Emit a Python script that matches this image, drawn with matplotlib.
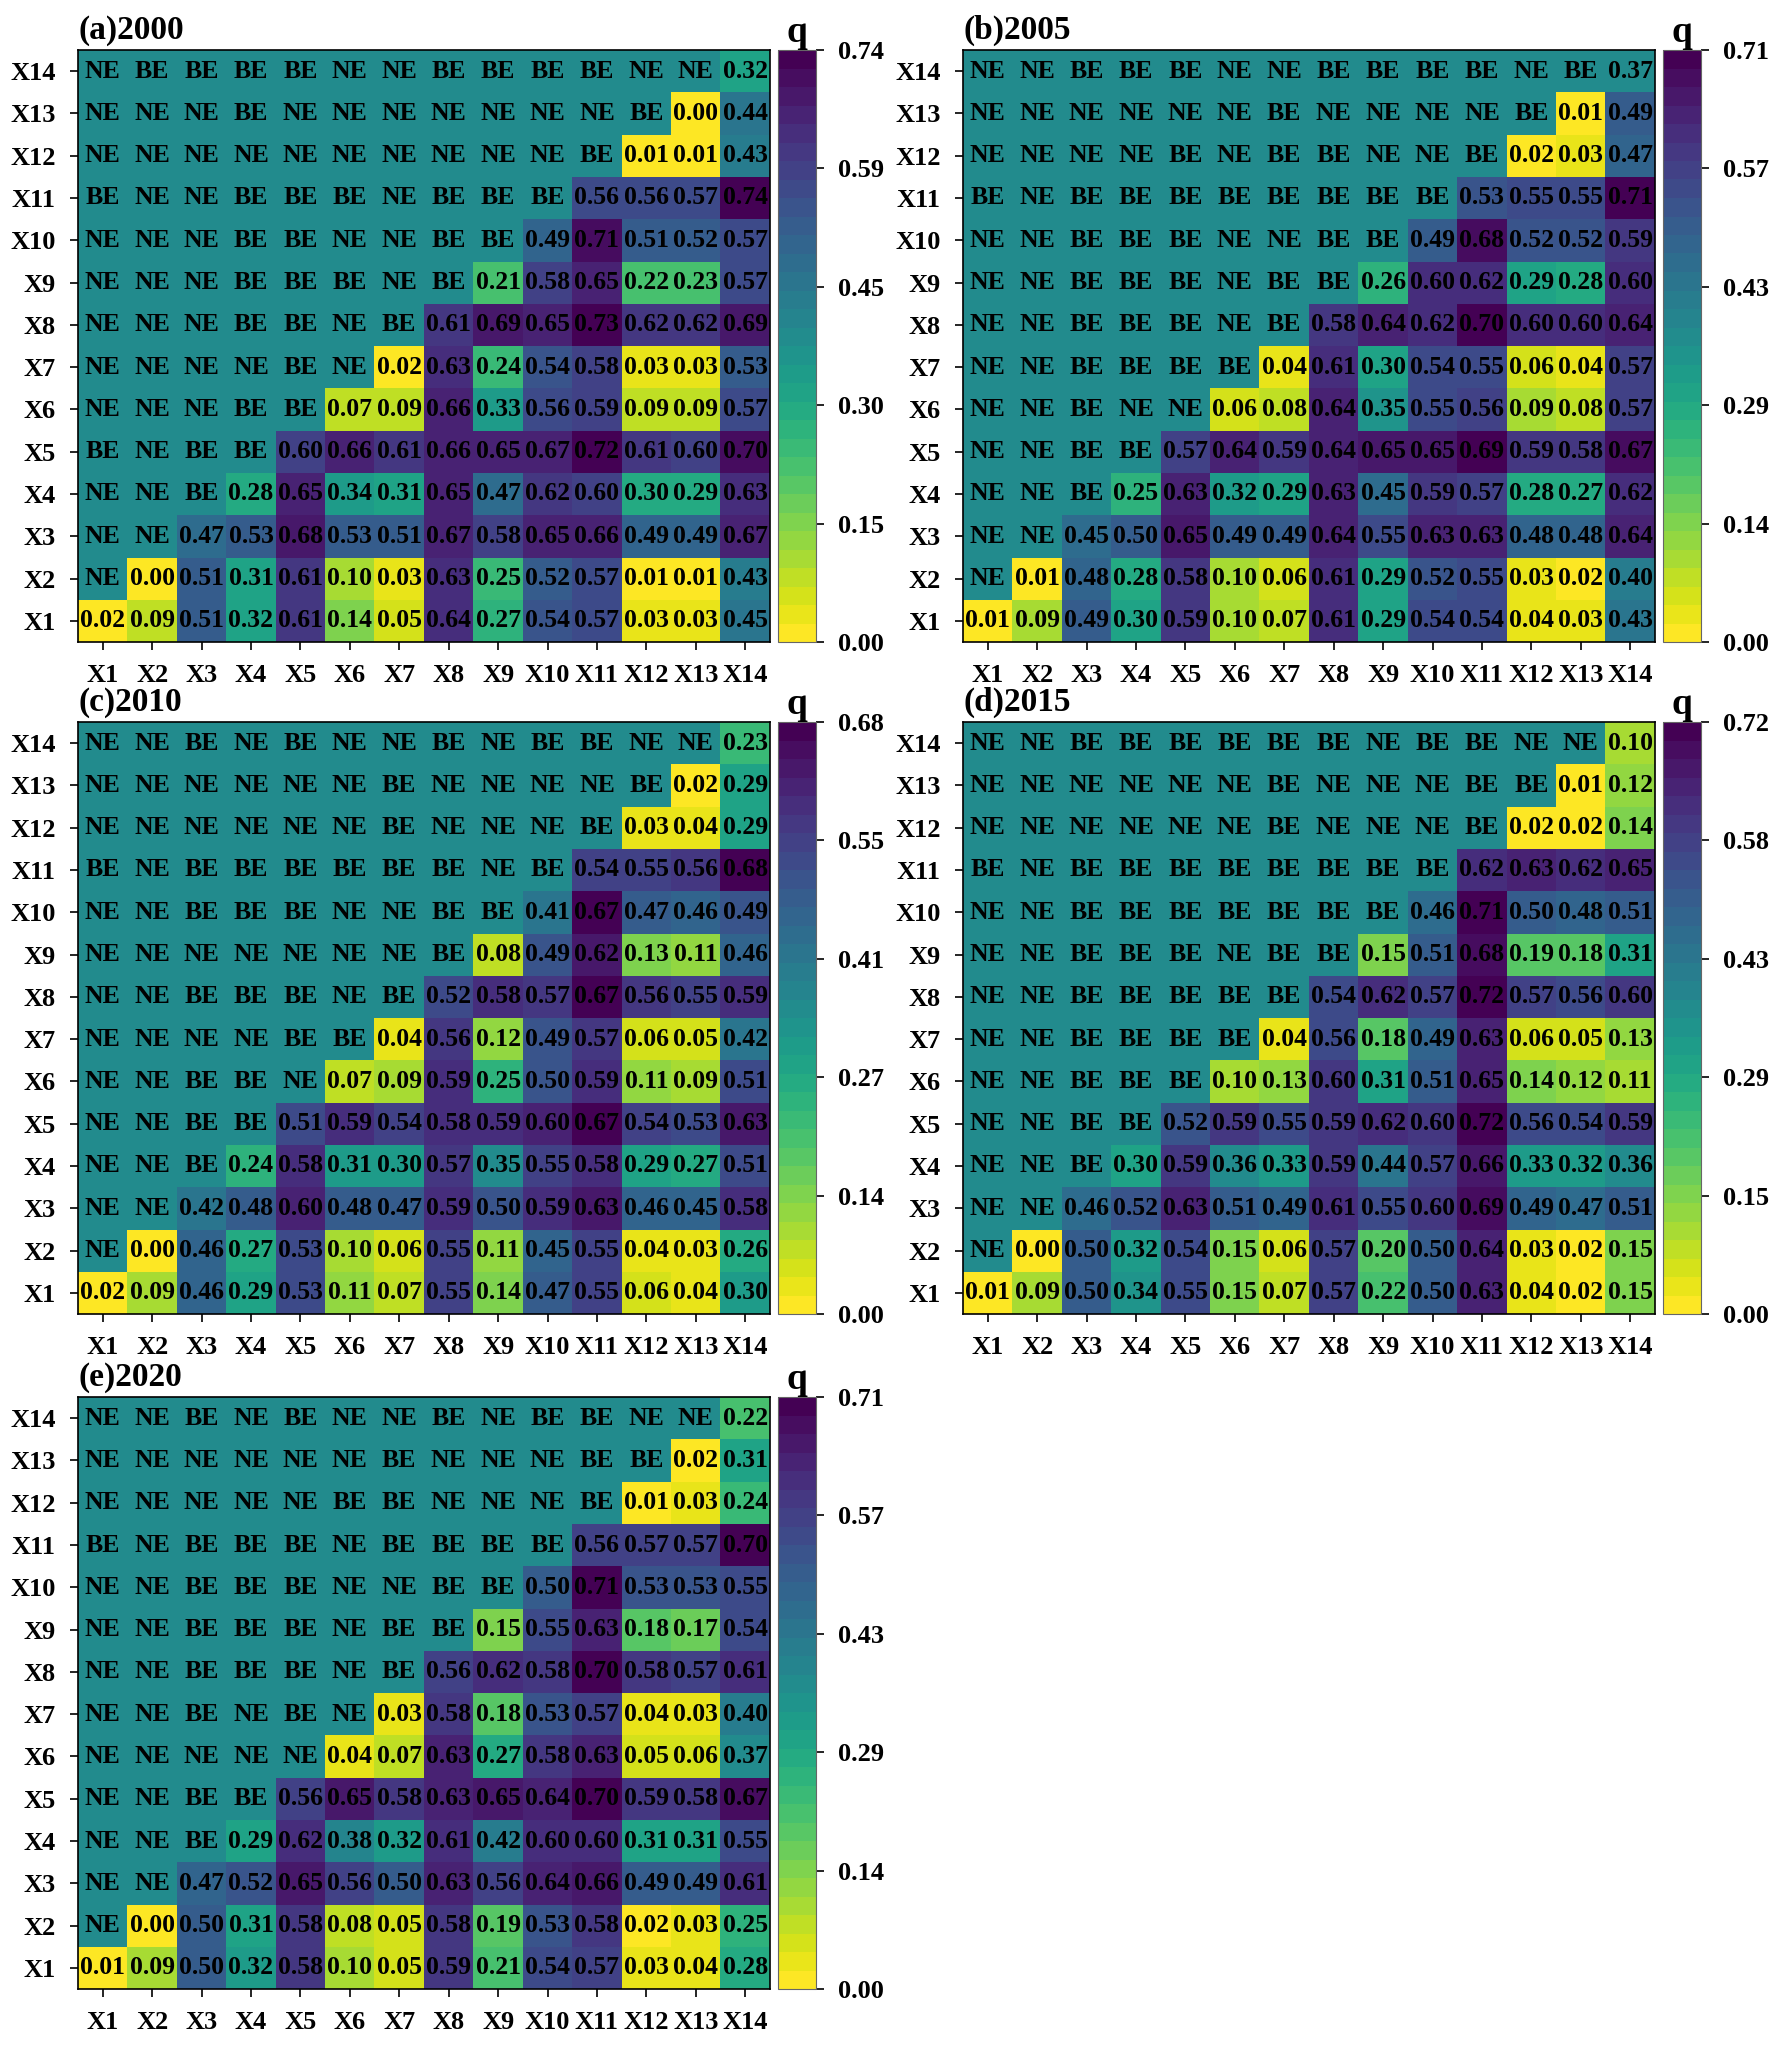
import numpy as np
import matplotlib
matplotlib.use("Agg")
import matplotlib.pyplot as plt

plt.rcParams['font.family'] = ['Liberation Serif', 'DejaVu Serif']
plt.rcParams['font.weight'] = 'bold'

factors = ['X%d' % i for i in range(1, 15)]

# rows from X1 (bottom) to X14 (top); cells left of the diagonal hold the interaction type
grid_2000 = [
    "0.02 0.09 0.51 0.32 0.61 0.14 0.05 0.64 0.27 0.54 0.57 0.03 0.03 0.45",
    "NE 0.00 0.51 0.31 0.61 0.10 0.03 0.63 0.25 0.52 0.57 0.01 0.01 0.43",
    "NE NE 0.47 0.53 0.68 0.53 0.51 0.67 0.58 0.65 0.66 0.49 0.49 0.67",
    "NE NE BE 0.28 0.65 0.34 0.31 0.65 0.47 0.62 0.60 0.30 0.29 0.63",
    "BE NE BE BE 0.60 0.66 0.61 0.66 0.65 0.67 0.72 0.61 0.60 0.70",
    "NE NE NE BE BE 0.07 0.09 0.66 0.33 0.56 0.59 0.09 0.09 0.57",
    "NE NE NE NE BE NE 0.02 0.63 0.24 0.54 0.58 0.03 0.03 0.53",
    "NE NE NE BE BE NE BE 0.61 0.69 0.65 0.73 0.62 0.62 0.69",
    "NE NE NE BE BE BE NE BE 0.21 0.58 0.65 0.22 0.23 0.57",
    "NE NE NE BE BE NE NE BE BE 0.49 0.71 0.51 0.52 0.57",
    "BE NE NE BE BE BE NE BE BE BE 0.56 0.56 0.57 0.74",
    "NE NE NE NE NE NE NE NE NE NE BE 0.01 0.01 0.43",
    "NE NE NE BE NE NE NE NE NE NE NE BE 0.00 0.44",
    "NE BE BE BE BE NE NE BE BE BE BE NE NE 0.32",
]
grid_2005 = [
    "0.01 0.09 0.49 0.30 0.59 0.10 0.07 0.61 0.29 0.54 0.54 0.04 0.03 0.43",
    "NE 0.01 0.48 0.28 0.58 0.10 0.06 0.61 0.29 0.52 0.55 0.03 0.02 0.40",
    "NE NE 0.45 0.50 0.65 0.49 0.49 0.64 0.55 0.63 0.63 0.48 0.48 0.64",
    "NE NE BE 0.25 0.63 0.32 0.29 0.63 0.45 0.59 0.57 0.28 0.27 0.62",
    "NE NE BE BE 0.57 0.64 0.59 0.64 0.65 0.65 0.69 0.59 0.58 0.67",
    "NE NE BE NE NE 0.06 0.08 0.64 0.35 0.55 0.56 0.09 0.08 0.57",
    "NE NE BE BE BE BE 0.04 0.61 0.30 0.54 0.55 0.06 0.04 0.57",
    "NE NE BE BE BE NE BE 0.58 0.64 0.62 0.70 0.60 0.60 0.64",
    "NE NE BE BE BE NE BE BE 0.26 0.60 0.62 0.29 0.28 0.60",
    "NE NE BE BE BE NE NE BE BE 0.49 0.68 0.52 0.52 0.59",
    "BE NE BE BE BE BE BE BE BE BE 0.53 0.55 0.55 0.71",
    "NE NE NE NE BE NE BE BE NE NE BE 0.02 0.03 0.47",
    "NE NE NE NE NE NE BE NE NE NE NE BE 0.01 0.49",
    "NE NE BE BE BE NE NE BE BE BE BE NE BE 0.37",
]
grid_2010 = [
    "0.02 0.09 0.46 0.29 0.53 0.11 0.07 0.55 0.14 0.47 0.55 0.06 0.04 0.30",
    "NE 0.00 0.46 0.27 0.53 0.10 0.06 0.55 0.11 0.45 0.55 0.04 0.03 0.26",
    "NE NE 0.42 0.48 0.60 0.48 0.47 0.59 0.50 0.59 0.63 0.46 0.45 0.58",
    "NE NE BE 0.24 0.58 0.31 0.30 0.57 0.35 0.55 0.58 0.29 0.27 0.51",
    "NE NE BE BE 0.51 0.59 0.54 0.58 0.59 0.60 0.67 0.54 0.53 0.63",
    "NE NE BE BE NE 0.07 0.09 0.59 0.25 0.50 0.59 0.11 0.09 0.51",
    "NE NE NE NE BE BE 0.04 0.56 0.12 0.49 0.57 0.06 0.05 0.42",
    "NE NE BE BE BE NE BE 0.52 0.58 0.57 0.67 0.56 0.55 0.59",
    "NE NE NE NE NE NE NE BE 0.08 0.49 0.62 0.13 0.11 0.46",
    "NE NE BE BE BE NE NE BE BE 0.41 0.67 0.47 0.46 0.49",
    "BE NE BE BE BE BE BE BE NE BE 0.54 0.55 0.56 0.68",
    "NE NE NE NE NE NE BE NE NE NE BE 0.03 0.04 0.29",
    "NE NE NE NE NE NE BE NE NE NE NE BE 0.02 0.29",
    "NE NE BE NE BE NE NE BE NE BE BE NE NE 0.23",
]
grid_2015 = [
    "0.01 0.09 0.50 0.34 0.55 0.15 0.07 0.57 0.22 0.50 0.63 0.04 0.02 0.15",
    "NE 0.00 0.50 0.32 0.54 0.15 0.06 0.57 0.20 0.50 0.64 0.03 0.02 0.15",
    "NE NE 0.46 0.52 0.63 0.51 0.49 0.61 0.55 0.60 0.69 0.49 0.47 0.51",
    "NE NE BE 0.30 0.59 0.36 0.33 0.59 0.44 0.57 0.66 0.33 0.32 0.36",
    "NE NE BE BE 0.52 0.59 0.55 0.59 0.62 0.60 0.72 0.56 0.54 0.59",
    "NE NE BE BE BE 0.10 0.13 0.60 0.31 0.51 0.65 0.14 0.12 0.11",
    "NE NE BE BE BE BE 0.04 0.56 0.18 0.49 0.63 0.06 0.05 0.13",
    "NE NE BE BE BE BE BE 0.54 0.62 0.57 0.72 0.57 0.56 0.60",
    "NE NE BE BE BE NE BE BE 0.15 0.51 0.68 0.19 0.18 0.31",
    "NE NE BE BE BE BE BE BE BE 0.46 0.71 0.50 0.48 0.51",
    "BE NE BE BE BE BE BE BE BE BE 0.62 0.63 0.62 0.65",
    "NE NE NE NE NE NE BE NE NE NE BE 0.02 0.02 0.14",
    "NE NE NE NE NE NE BE NE NE NE BE BE 0.01 0.12",
    "NE NE BE BE BE BE BE BE NE BE BE NE NE 0.10",
]
grid_2020 = [
    "0.01 0.09 0.50 0.32 0.58 0.10 0.05 0.59 0.21 0.54 0.57 0.03 0.04 0.28",
    "NE 0.00 0.50 0.31 0.58 0.08 0.05 0.58 0.19 0.53 0.58 0.02 0.03 0.25",
    "NE NE 0.47 0.52 0.65 0.56 0.50 0.63 0.56 0.64 0.66 0.49 0.49 0.61",
    "NE NE BE 0.29 0.62 0.38 0.32 0.61 0.42 0.60 0.60 0.31 0.31 0.55",
    "NE NE BE BE 0.56 0.65 0.58 0.63 0.65 0.64 0.70 0.59 0.58 0.67",
    "NE NE NE NE NE 0.04 0.07 0.63 0.27 0.58 0.63 0.05 0.06 0.37",
    "NE NE BE NE BE NE 0.03 0.58 0.18 0.53 0.57 0.04 0.03 0.40",
    "NE NE BE BE BE NE BE 0.56 0.62 0.58 0.70 0.58 0.57 0.61",
    "NE NE BE BE BE NE BE BE 0.15 0.55 0.63 0.18 0.17 0.54",
    "NE NE BE BE BE NE NE BE BE 0.50 0.71 0.53 0.53 0.55",
    "BE NE BE BE BE NE BE BE BE BE 0.56 0.57 0.57 0.70",
    "NE NE NE NE NE BE BE NE NE NE BE 0.01 0.03 0.24",
    "NE NE NE NE NE NE BE NE NE NE BE BE 0.02 0.31",
    "NE NE BE NE BE NE NE BE NE BE BE NE NE 0.22",
]

titles = ['(a)2000', '(b)2005', '(c)2010', '(d)2015', '(e)2020']
grids = [grid_2000, grid_2005, grid_2010, grid_2015, grid_2020]
cbar_labels = [
    ['0.00', '0.15', '0.30', '0.45', '0.59', '0.74'],
    ['0.00', '0.14', '0.29', '0.43', '0.57', '0.71'],
    ['0.00', '0.14', '0.27', '0.41', '0.55', '0.68'],
    ['0.00', '0.15', '0.29', '0.43', '0.58', '0.72'],
    ['0.00', '0.14', '0.29', '0.43', '0.57', '0.71'],
]

W, H = 1779, 2048
cmap = plt.get_cmap('viridis_r').resampled(32)


def parse_grid(rows):
    tokens = [r.split() for r in rows]
    vals = np.full((14, 14), np.nan)
    for i, row in enumerate(tokens):
        for j, t in enumerate(row):
            if t not in ('NE', 'BE'):
                vals[i, j] = float(t)
    return tokens, vals


def draw_panel(fig, px_left, px_top, title, rows, ticklabels):
    tokens, vals = parse_grid(rows)
    vmax = np.nanmax(vals)
    filled = np.where(np.isnan(vals), vmax / 2, vals)

    ax = fig.add_axes([px_left / W, 1 - (px_top + 592) / H, 692 / W, 592 / H])
    im = ax.imshow(filled, cmap=cmap, vmin=0, vmax=vmax, origin='lower',
                   aspect='auto', interpolation='nearest')
    for i in range(14):
        for j in range(14):
            ax.text(j, i, tokens[i][j], ha='center', va='center',
                    fontsize=18.5, fontweight='bold', color='black')
    ax.set_xticks(range(14))
    ax.set_yticks(range(14))
    ax.set_xticklabels(factors, fontsize=19, fontweight='bold')
    ax.set_yticklabels(factors, fontsize=19, fontweight='bold')
    ax.tick_params(length=6, width=1.2, pad=10)
    for s in ax.spines.values():
        s.set_linewidth(1.2)
    ax.set_title(title, loc='left', fontsize=24, fontweight='bold', pad=8)

    cax = fig.add_axes([(px_left + 700) / W, 1 - (px_top + 592) / H, 38 / W, 592 / H])
    cb = fig.colorbar(im, cax=cax)
    cb.set_ticks(np.linspace(0, vmax, 6))
    cb.set_ticklabels(ticklabels)
    cb.ax.tick_params(labelsize=19, length=6, width=1.2, pad=10)
    cb.outline.set_linewidth(0.8)
    cb.outline.set_edgecolor('#666666')
    cax.set_title('q', fontsize=27, fontweight='bold', pad=4)


fig = plt.figure(figsize=(W / 100, H / 100), dpi=100)
positions = [(78, 50), (963, 50), (78, 722), (963, 722), (78, 1397)]
for (x0, y0), title, rows, tl in zip(positions, titles, grids, cbar_labels):
    draw_panel(fig, x0, y0, title, rows, tl)

fig.savefig('out.png', dpi=100, facecolor='white')
